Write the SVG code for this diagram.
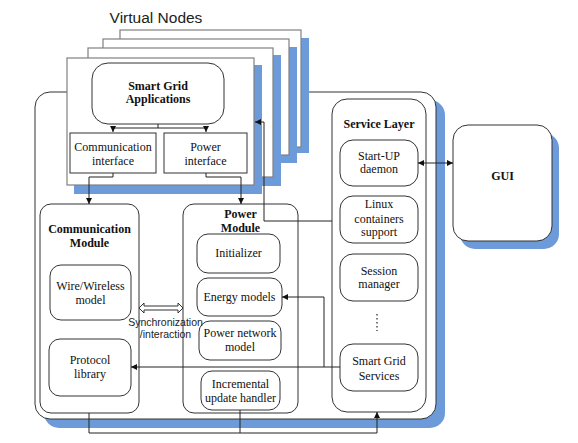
<svg xmlns="http://www.w3.org/2000/svg" width="578" height="443" viewBox="0 0 578 443">
<defs>
<style>
.sh{fill:#6d9ad9;stroke:none}
.bx{fill:#fff;stroke:#333;stroke-width:1}
.pg{fill:#fff;stroke:#808080;stroke-width:1.2}
.t{font-family:"Liberation Serif","Times New Roman",serif;font-size:12px;fill:#111;text-anchor:middle}
.b{font-weight:bold}
.a{font-family:"Liberation Sans",Arial,sans-serif;font-size:10.5px;fill:#222;text-anchor:middle}
.c{fill:none;stroke:#222;stroke-width:1}
</style>
<marker id="ar" markerWidth="6" markerHeight="6" refX="6" refY="3" orient="auto-start-reverse" markerUnits="userSpaceOnUse">
<path d="M0,0 L6,3 L0,6 z" fill="#111"/>
</marker>
</defs>
<rect width="578" height="443" fill="#fff"/>
<g id="host">
<rect class="sh" x="44" y="100" width="401" height="328" rx="15"/>
<rect class="bx" x="35" y="92" width="401" height="327" rx="15"/>
</g>
<g id="gui">
<rect class="sh" x="460" y="133" width="99" height="116" rx="15"/>
<rect class="bx" x="453" y="125" width="99" height="116" rx="15"/>
<text class="t b" x="502.5" y="180" font-size="14">GUI</text>
</g>
<g id="comm-module">
<rect class="bx" x="40" y="204" width="99" height="209" rx="11"/>
<text class="t b" x="89.5" y="233">Communication</text>
<text class="t b" x="89.5" y="247">Module</text>
<g id="wire-model">
<rect class="bx" x="50" y="265" width="81" height="55" rx="11"/>
<text class="t" x="90.5" y="290">Wire/Wireless</text>
<text class="t" x="90.5" y="304">model</text>
</g>
<g id="protocol-library">
<rect class="bx" x="49" y="339" width="82" height="57" rx="11"/>
<text class="t" x="90" y="364">Protocol</text>
<text class="t" x="90" y="378">library</text>
</g>
</g>
<g id="power-module">
<rect class="bx" x="183" y="204" width="115" height="209" rx="11"/>
<text class="t b" x="240.5" y="218">Power</text>
<text class="t b" x="240.5" y="232">Module</text>
<g id="initializer">
<rect class="bx" x="197" y="234" width="83" height="39" rx="11"/>
<text class="t" x="238.5" y="257">Initializer</text>
</g>
<g id="energy-models">
<rect class="bx" x="197" y="278" width="85" height="38" rx="11"/>
<text class="t" x="239.5" y="301">Energy models</text>
</g>
<g id="power-network-model">
<rect class="bx" x="199" y="321" width="82" height="39" rx="11"/>
<text class="t" x="240" y="337">Power network</text>
<text class="t" x="240" y="351">model</text>
</g>
<g id="incremental-update">
<rect class="bx" x="201" y="371" width="79" height="39" rx="11"/>
<text class="t" x="240.5" y="388">Incremental</text>
<text class="t" x="240.5" y="402">update handler</text>
</g>
</g>
<g id="service-layer">
<rect class="bx" x="332" y="99" width="94" height="313" rx="15"/>
<text class="t b" x="379" y="128">Service Layer</text>
<g id="startup-daemon">
<rect class="bx" x="340" y="140" width="78" height="46" rx="13"/>
<text class="t" x="379" y="160">Start-UP</text>
<text class="t" x="379" y="173" font-size="11">daemon</text>
</g>
<g id="linux-containers">
<rect class="bx" x="340" y="196" width="78" height="47" rx="13"/>
<text class="t" x="379" y="208">Linux</text>
<text class="t" x="379" y="223">containers</text>
<text class="t" x="379" y="236">support</text>
</g>
<g id="session-manager">
<rect class="bx" x="340" y="254" width="78" height="47" rx="13"/>
<text class="t" x="379" y="275">Session</text>
<text class="t" x="379" y="288">manager</text>
</g>
<line x1="377" y1="314" x2="377" y2="331" stroke="#222" stroke-width="1.2" stroke-dasharray="1.5,2.5"/>
<g id="smart-grid-services">
<rect class="bx" x="340" y="344" width="78" height="47" rx="13"/>
<text class="t" x="379" y="365">Smart Grid</text>
<text class="t" x="379" y="380">Services</text>
</g>
</g>
<g id="virtual-nodes">
<text x="156" y="23" font-family="Liberation Sans, Arial, sans-serif" font-size="15.5" fill="#222" text-anchor="middle">Virtual Nodes</text>
<rect class="sh" x="128" y="38" width="181" height="115"/>
<rect class="pg" x="120" y="30" width="181" height="117"/>
<rect class="sh" x="111" y="47" width="186" height="116"/>
<rect class="pg" x="103" y="39" width="186" height="116" stroke="#222"/>
<rect class="sh" x="96" y="55" width="185" height="131"/>
<rect class="pg" x="88" y="48" width="185" height="129"/>
<rect class="sh" x="74" y="65" width="188" height="129"/>
<rect class="pg" x="67" y="58" width="187" height="127"/>
<g id="smart-grid-apps">
<rect class="bx" x="92" y="63" width="132" height="61" rx="16" stroke="#555"/>
<text class="t b" x="158" y="90">Smart Grid</text>
<text class="t b" x="158" y="103">Applications</text>
</g>
<g id="comm-interface">
<rect class="bx" x="70" y="133" width="86" height="40"/>
<text class="t" x="113" y="151">Communication</text>
<text class="t" x="113" y="165">interface</text>
</g>
<g id="power-interface">
<rect class="bx" x="164" y="133" width="83" height="40"/>
<text class="t" x="205.5" y="151">Power</text>
<text class="t" x="205.5" y="165">interface</text>
</g>
</g>
<g id="connectors">
<path class="c" d="M158,124 V128 M113,128 H206"/>
<path class="c" d="M113,128 V132" marker-end="url(#ar)"/>
<path class="c" d="M206,128 V132" marker-end="url(#ar)"/>
<path class="c" d="M113,173 V177 H89 V204" marker-end="url(#ar)"/>
<path class="c" d="M206,173 V177 H241 V204" marker-end="url(#ar)"/>
<path class="c" d="M332,221 H264 V122 H255" marker-end="url(#ar)"/>
<path class="c" d="M418,163 H453" marker-start="url(#ar)" marker-end="url(#ar)"/>
<path class="c" d="M340,367 H131" marker-end="url(#ar)"/>
<path class="c" d="M324,367 V297 H282" marker-end="url(#ar)"/>
<path class="c" d="M89,413 V433 H377 V412" marker-end="url(#ar)"/>
<path class="c" d="M240,410 V433"/>
<polygon points="139,308 144,303 144,306 178,306 178,303 183,308 178,313 178,310 144,310 144,313" fill="#fff" stroke="#333" stroke-width="1"/>
<text class="a" x="165.5" y="326">Synchronization</text>
<text class="a" x="165.5" y="338">/interaction</text>
</g>
</svg>
